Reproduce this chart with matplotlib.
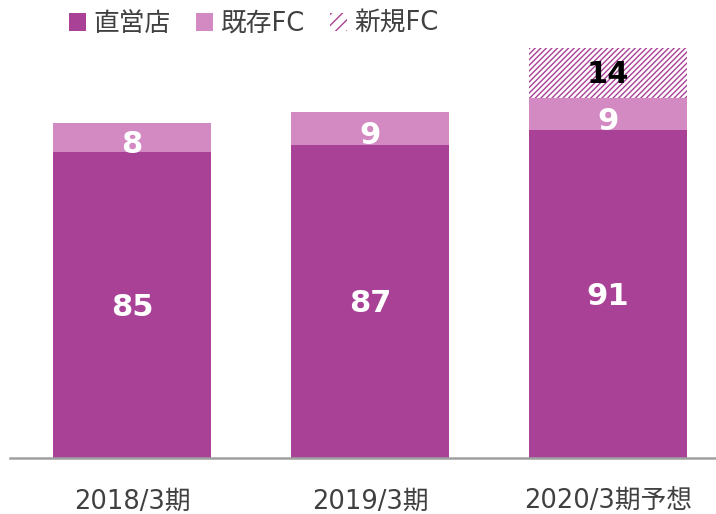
import matplotlib
matplotlib.use("Agg")
import matplotlib.pyplot as plt
from matplotlib.patches import Patch
import numpy as np

categories = ["2018/3期", "2019/3期", "2020/3期予想"]
direct = [85, 87, 91]
existing_fc = [8, 9, 9]
new_fc = [0, 0, 14]
series_names = ["直営店", "既存FC", "新規FC"]

DARK = "#A94196"
LIGHT = "#D38AC3"
plt.rcParams['font.family'] = ['DejaVu Sans', 'Noto Sans CJK JP']
plt.rcParams['hatch.color'] = DARK
plt.rcParams['hatch.linewidth'] = 1.0

W, H = 716, 514
fig = plt.figure(figsize=(W / 100, H / 100), dpi=100)
ax = fig.add_axes([10 / W, (H - 458) / H, 706 / W, 418 / H])

x = np.arange(len(categories))
bw = 0.665
ax.bar(x, direct, bw, color=DARK, linewidth=0)
ax.bar(x, existing_fc, bw, bottom=direct, color=LIGHT, linewidth=0)
bottom3 = np.array(direct) + np.array(existing_fc)
ax.bar(x, new_fc, bw, bottom=bottom3, color="white", hatch="//////",
       edgecolor=DARK, linewidth=0)

lblfont = dict(family="DejaVu Sans", fontweight="bold", fontsize=22)
for i in range(len(categories)):
    ax.annotate(str(direct[i]), (x[i], direct[i] / 2), xytext=(0, -1.5),
                textcoords="offset points", ha="center", va="center",
                color="white", **lblfont)
    ax.annotate(str(existing_fc[i]), (x[i], direct[i] + existing_fc[i] / 2),
                xytext=(0, -5), textcoords="offset points", ha="center",
                va="center", color="white", **lblfont)
    if new_fc[i] > 0:
        ax.annotate(str(new_fc[i]), (x[i], bottom3[i] + new_fc[i] / 2),
                    xytext=(0, -1), textcoords="offset points", ha="center",
                    va="center", color="black", **lblfont)

ax.set_xlim(-0.513, 2.454)
ax.set_ylim(0, 116.1)
ax.set_xticks(x)
ax.set_xticklabels(categories, fontsize=18.5, color="#404040")
ax.tick_params(axis="x", length=0, pad=22)
ax.set_yticks([])
for s in ["top", "left", "right"]:
    ax.spines[s].set_visible(False)
ax.spines["bottom"].set_color("#A0A0A0")
ax.spines["bottom"].set_linewidth(1.8)

handles = [Patch(facecolor=DARK, linewidth=0),
           Patch(facecolor=LIGHT, linewidth=0),
           Patch(facecolor="white", hatch="///", edgecolor=DARK, linewidth=0)]
fig.legend(handles, series_names, loc="upper left",
           bbox_to_anchor=(69 / W, 1 - 11 / H), ncol=3, frameon=False,
           fontsize=18.5, labelcolor="#404040", handlelength=0.66,
           handleheight=0.66, handletextpad=0.28, columnspacing=1.0,
           borderaxespad=0, borderpad=0)

fig.savefig("out.png", dpi=100, facecolor="white")
